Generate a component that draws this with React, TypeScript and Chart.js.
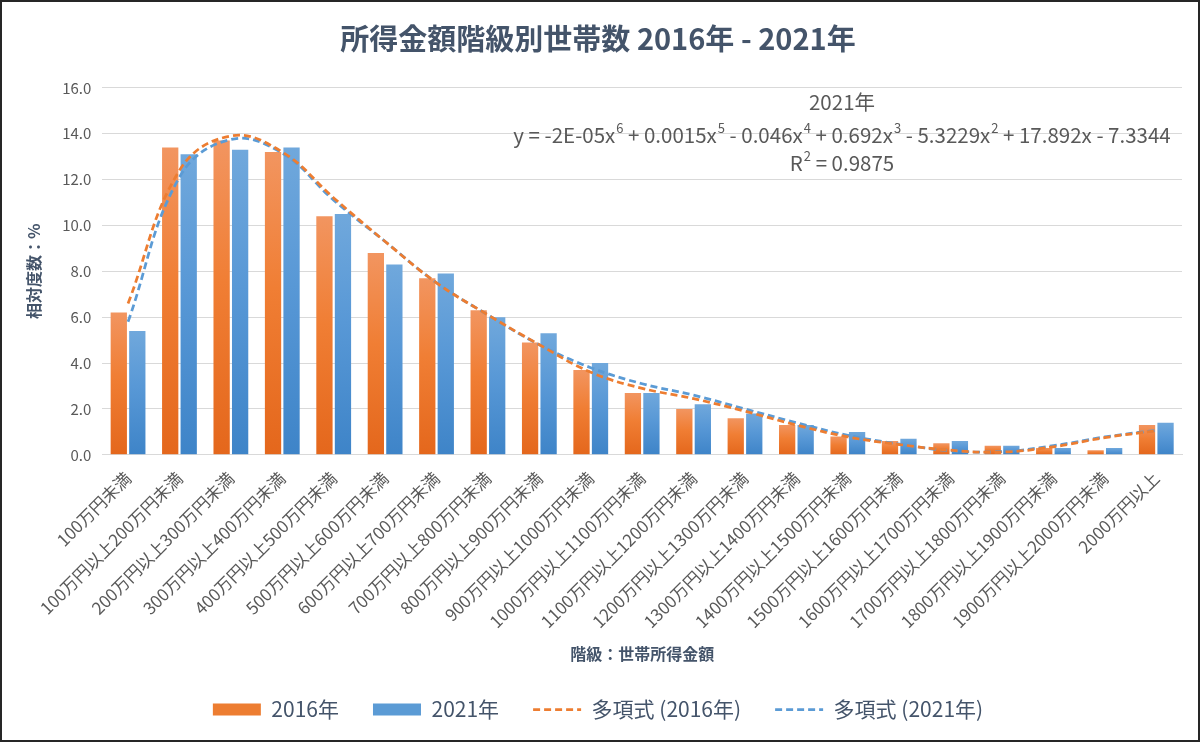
import React, { useEffect, useRef } from "react";
import { Chart, registerables } from "chart.js";

Chart.register(...registerables);

// 所得階級
const categories = [
  "100万円未満",
  "100万円以上200万円未満",
  "200万円以上300万円未満",
  "300万円以上400万円未満",
  "400万円以上500万円未満",
  "500万円以上600万円未満",
  "600万円以上700万円未満",
  "700万円以上800万円未満",
  "800万円以上900万円未満",
  "900万円以上1000万円未満",
  "1000万円以上1100万円未満",
  "1100万円以上1200万円未満",
  "1200万円以上1300万円未満",
  "1300万円以上1400万円未満",
  "1400万円以上1500万円未満",
  "1500万円以上1600万円未満",
  "1600万円以上1700万円未満",
  "1700万円以上1800万円未満",
  "1800万円以上1900万円未満",
  "1900万円以上2000万円未満",
  "2000万円以上",
];

// 相対度数 (%)
const share2016 = [6.2, 13.4, 13.7, 13.2, 10.4, 8.8, 7.7, 6.3, 4.9, 3.7, 2.7, 2.0, 1.6, 1.3, 0.8, 0.6, 0.5, 0.4, 0.3, 0.2, 1.3];
const share2021 = [5.4, 13.1, 13.3, 13.4, 10.5, 8.3, 7.9, 6.0, 5.3, 4.0, 2.7, 2.2, 1.8, 1.3, 1.0, 0.7, 0.6, 0.4, 0.3, 0.3, 1.4];

// 多項式近似 (at each class)
const trend2016 = [6.6, 12.4, 13.9, 13.2, 11.2, 9.3, 7.5, 6.1, 4.8, 3.6, 2.9, 2.45, 1.9, 1.3, 0.78, 0.45, 0.2, 0.12, 0.35, 0.75, 1.05];
const trend2021 = [5.8, 12.1, 13.75, 13.15, 11.1, 9.3, 7.5, 6.1, 4.8, 3.8, 3.1, 2.6, 2.0, 1.4, 0.85, 0.47, 0.18, 0.14, 0.4, 0.78, 1.07];

const yMax = 16;
const yStep = 2;

const eqLabel = "2021年";
const eqTerms: [string, string][] = [
  ["y = -2E-05x", "6"],
  [" + 0.0015x", "5"],
  [" - 0.046x", "4"],
  [" + 0.692x", "3"],
  [" - 5.3229x", "2"],
  [" + 17.892x - 7.3344", ""],
];
const eqR2: [string, string, string] = ["R", "2", " = 0.9875"];

const FONT = "'Noto Sans CJK JP', 'Noto Sans', sans-serif";
const TEXT = "#44546A";
const TICK = "#595959";
const ORANGE = "#ED7D31";
const BLUE = "#5B9BD5";
const DASH = [7, 4];

const barGradient = (values: number[], light: string, mid: string, dark: string) => (ctx: any) => {
  const chart = ctx.chart;
  const y = chart.scales && chart.scales.y;
  if (ctx.type !== "data" || !y) return mid;
  const top = y.getPixelForValue(values[ctx.dataIndex]);
  const bottom = y.getPixelForValue(0);
  if (!isFinite(top) || !isFinite(bottom) || bottom - top < 1) return dark;
  const g = chart.ctx.createLinearGradient(0, top, 0, bottom);
  g.addColorStop(0, light);
  g.addColorStop(0.45, mid);
  g.addColorStop(1, dark);
  return g;
};

const legendColors = [ORANGE, BLUE, ORANGE, BLUE];

const equationPlugin = {
  id: "equation",
  afterDatasetsDraw(chart: any) {
    const { ctx, chartArea } = chart;
    const cx = chartArea.right - 340;
    const big = `20.5px ${FONT}`;
    const small = `13px ${FONT}`;
    ctx.save();
    ctx.fillStyle = TICK;
    ctx.textBaseline = "middle";

    ctx.font = big;
    ctx.textAlign = "center";
    ctx.fillText(eqLabel, cx, chartArea.top + 14);

    // equation line with superscripts
    ctx.textAlign = "left";
    let total = 0;
    for (const [t, s] of eqTerms) {
      ctx.font = big;
      total += ctx.measureText(t).width;
      ctx.font = small;
      total += s ? ctx.measureText(s).width + 1 : 0;
    }
    let x = cx - total / 2;
    const ly = chartArea.top + 47;
    for (const [t, s] of eqTerms) {
      ctx.font = big;
      ctx.fillText(t, x, ly);
      x += ctx.measureText(t).width;
      if (s) {
        ctx.font = small;
        ctx.fillText(s, x + 1, ly - 7);
        x += ctx.measureText(s).width + 1;
      }
    }

    // R²
    ctx.font = big;
    const w0 = ctx.measureText(eqR2[0]).width;
    const w2 = ctx.measureText(eqR2[2]).width;
    ctx.font = small;
    const w1 = ctx.measureText(eqR2[1]).width + 1;
    let rx = cx - (w0 + w1 + w2) / 2;
    const ry = chartArea.top + 75;
    ctx.font = big;
    ctx.fillText(eqR2[0], rx, ry);
    rx += w0;
    ctx.font = small;
    ctx.fillText(eqR2[1], rx + 1, ry - 7);
    rx += w1;
    ctx.font = big;
    ctx.fillText(eqR2[2], rx, ry);
    ctx.restore();
  },
};

const IncomeChart: React.FC = () => {
  const chartRef = useRef<HTMLCanvasElement | null>(null);

  useEffect(() => {
    if (!chartRef.current) return;
    const chart = new Chart(chartRef.current, {
      type: "bar",
      data: {
        labels: categories,
        datasets: [
          {
            type: "bar",
            label: "2016年",
            data: share2016,
            backgroundColor: barGradient(share2016, "#F29560", "#F07E34", "#E4671C"),
            borderWidth: 0,
            pointStyle: "rect",
            categoryPercentage: 0.72,
            barPercentage: 0.88,
            order: 0,
          },
          {
            type: "bar",
            label: "2021年",
            data: share2021,
            backgroundColor: barGradient(share2021, "#70A8DC", "#5898D6", "#3E84C8"),
            borderWidth: 0,
            pointStyle: "rect",
            categoryPercentage: 0.72,
            barPercentage: 0.88,
            order: 0,
          },
          {
            type: "line",
            label: "多項式 (2016年)",
            data: trend2016,
            borderColor: ORANGE,
            backgroundColor: ORANGE,
            borderWidth: 2.75,
            borderDash: DASH,
            pointRadius: 0,
            pointStyle: "line",
            tension: 0.4,
            fill: false,
            order: -1,
          },
          {
            type: "line",
            label: "多項式 (2021年)",
            data: trend2021,
            borderColor: BLUE,
            backgroundColor: BLUE,
            borderWidth: 2.75,
            borderDash: DASH,
            pointRadius: 0,
            pointStyle: "line",
            tension: 0.4,
            fill: false,
            order: -1,
          },
        ],
      },
      options: {
        animation: false,
        responsive: true,
        maintainAspectRatio: false,
        layout: { padding: { left: 12, right: 16, top: 0, bottom: 10 } },
        plugins: {
          title: {
            display: true,
            text: "所得金額階級別世帯数 2016年 - 2021年",
            color: TEXT,
            font: { family: FONT, size: 29, weight: "bold" },
            padding: { top: 20, bottom: 31 },
          },
          legend: {
            position: "bottom",
            labels: {
              usePointStyle: true,
              pointStyleWidth: 48,
              boxHeight: 12,
              padding: 34,
              color: TEXT,
              font: { family: FONT, size: 21 },
              sort: (a: any, b: any) => a.datasetIndex - b.datasetIndex,
              generateLabels: (c: any) => {
                const items = Chart.defaults.plugins.legend.labels.generateLabels(c);
                return items.map((it: any) => {
                  const isLine = it.datasetIndex >= 2;
                  const col = legendColors[it.datasetIndex];
                  return {
                    ...it,
                    fillStyle: col,
                    strokeStyle: col,
                    lineWidth: isLine ? 2.75 : 0,
                    lineDash: isLine ? DASH : [],
                  };
                });
              },
            },
          },
          tooltip: { enabled: false },
        },
        scales: {
          x: {
            grid: { display: false, drawTicks: false },
            border: { display: true, color: "#D9D9D9" },
            ticks: {
              color: TICK,
              font: { family: FONT, size: 17 },
              maxRotation: 45,
              minRotation: 45,
              autoSkip: false,
              padding: 13,
            },
            title: {
              display: true,
              text: "階級：世帯所得金額",
              color: TEXT,
              font: { family: FONT, size: 16, weight: "bold" },
              padding: { top: 0, bottom: 1 },
            },
          },
          y: {
            min: 0,
            max: yMax,
            grid: { color: "#D9D9D9", drawTicks: false },
            border: { display: false },
            ticks: {
              stepSize: yStep,
              color: TICK,
              font: { family: FONT, size: 15 },
              padding: 11,
              callback: (v: any) => Number(v).toFixed(1),
            },
            title: {
              display: true,
              text: "相対度数：%",
              color: TEXT,
              font: { family: FONT, size: 16, weight: "bold" },
              padding: { top: 10, bottom: 8 },
            },
          },
        },
      },
      plugins: [equationPlugin],
    });

    return () => {
      chart.destroy();
    };
  }, []);

  return (
    <div
      style={{
        position: "fixed",
        left: 0,
        top: 0,
        width: 1200,
        height: 742,
        boxSizing: "border-box",
        border: "2px solid #262626",
        background: "#ffffff",
      }}
    >
      <div style={{ position: "relative", width: "100%", height: "100%" }}>
        <canvas ref={chartRef} />
      </div>
    </div>
  );
};

export default function App() {
  return <IncomeChart />;
}
